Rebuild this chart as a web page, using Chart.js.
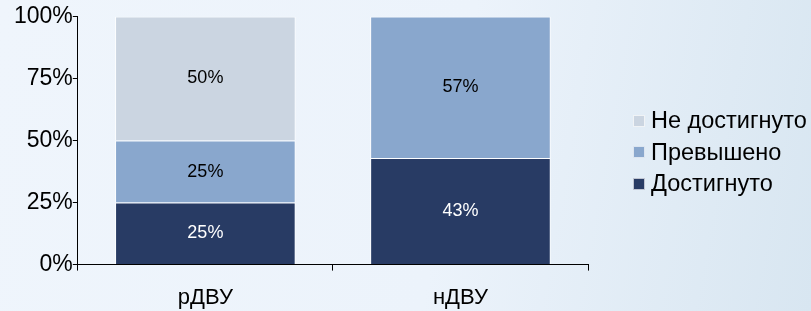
<!DOCTYPE html>
<html>
<head>
<meta charset="utf-8">
<script src="https://cdn.jsdelivr.net/npm/chart.js@4"></script>
<style>
  html, body { margin: 0; padding: 0; }
  body {
    width: 811px; height: 311px; overflow: hidden; position: relative;
    background: linear-gradient(100deg, #eff5fc 0%, #ecf3fb 55%, #d8e6f1 100%);
    font-family: "Liberation Sans", Arial, sans-serif;
  }
  #wrap { position: absolute; left: 0; top: 0; width: 811px; height: 311px; }
  #legend { position: absolute; left: 633px; top: 105px; }
  .item { height: 31.5px; display: flex; align-items: center; font-size: 23.5px; color: #000; white-space: nowrap; }
  .box { width: 12px; height: 12px; margin-right: 6px; flex: none; box-sizing: border-box; border: 1px solid rgba(255,255,255,0.7); }
</style>
</head>
<body>
<div id="wrap"><canvas id="c" width="811" height="311"></canvas></div>
<div id="legend"></div>
<script>
const categories = ["рДВУ", "нДВУ"];
const seriesNames = ["Достигнуто", "Превышено", "Не достигнуто"];
const achieved = [25, 43];
const exceeded = [25, 57];
const notAchieved = [50, 0];
const yTicks = [0, 25, 50, 75, 100];
const colors = ["#283b64", "#89a7cd", "#cbd5e1"];
const labelColors = ["#ffffff", "#000000", "#000000"];

const seriesValues = [achieved, exceeded, notAchieved];

const dataLabels = {
  id: 'dataLabels',
  afterDatasetsDraw(chart) {
    const ctx = chart.ctx;
    ctx.save();
    ctx.font = '18px "Liberation Sans", Arial, sans-serif';
    ctx.textAlign = 'center';
    ctx.textBaseline = 'middle';
    chart.data.datasets.forEach((ds, i) => {
      const meta = chart.getDatasetMeta(i);
      meta.data.forEach((el, j) => {
        const v = ds.data[j];
        if (!v) return;
        ctx.fillStyle = labelColors[i];
        ctx.fillText(v + '%', el.x, (el.y + el.base) / 2);
      });
    });
    ctx.restore();
  }
};

const chart = new Chart(document.getElementById('c'), {
  type: 'bar',
  data: {
    labels: categories,
    datasets: seriesNames.map((name, i) => ({
      label: name,
      data: seriesValues[i],
      backgroundColor: colors[i],
      borderColor: 'rgba(255,255,255,0.85)',
      borderWidth: 1,
      barPercentage: 0.708,
      categoryPercentage: 1.0
    }))
  },
  options: {
    responsive: false,
    animation: false,
    devicePixelRatio: 1,
    layout: { padding: { left: 14, right: 223, top: 16.5, bottom: -14 } },
    plugins: { legend: { display: false }, tooltip: { enabled: false } },
    scales: {
      x: {
        stacked: true,
        grid: { display: true, drawOnChartArea: false, drawTicks: true, tickLength: 6, color: '#000', offset: true },
        border: { display: true, color: '#000', width: 1 },
        ticks: { color: '#000', font: { family: '"Liberation Sans", Arial, sans-serif', size: 22 }, padding: 14 }
      },
      y: {
        stacked: true,
        min: 0, max: 100,
        afterBuildTicks(axis) { axis.ticks = yTicks.map(v => ({ value: v })); },
        grid: { display: true, drawOnChartArea: false, drawTicks: true, tickLength: 5, color: '#000' },
        border: { display: true, color: '#000', width: 1 },
        ticks: { color: '#000', padding: 0, font: { family: '"Liberation Sans", Arial, sans-serif', size: 23 }, callback: v => v + '%' }
      }
    }
  },
  plugins: [dataLabels]
});

const legend = document.getElementById('legend');
for (let i = seriesNames.length - 1; i >= 0; i--) {
  const row = document.createElement('div');
  row.className = 'item';
  const b = document.createElement('span');
  b.className = 'box';
  b.style.background = colors[i];
  const t = document.createElement('span');
  t.textContent = seriesNames[i];
  row.appendChild(b); row.appendChild(t);
  legend.appendChild(row);
}
</script>
</body>
</html>
